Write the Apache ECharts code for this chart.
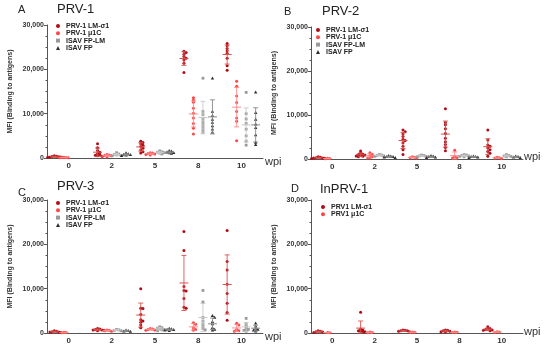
<!DOCTYPE html>
<html>
<head>
<meta charset="utf-8">
<script src="https://cdn.jsdelivr.net/npm/echarts@6/dist/echarts.min.js"></script>
<style>
html,body{margin:0;padding:0;background:#fff;}
#chart{width:550px;height:349px;}
</style>
</head>
<body>
<div id="chart"></div>
<script>
// ---------- data ----------
const catLabels = ['0', '2', '5', '8', '10'];
const namesABC = ['PRV-1 LM-σ1', 'PRV-1 μ1C', 'ISAV FP-LM', 'ISAV FP'];
const namesD = ['PRV1 LM-σ1', 'PRV1 μ1C'];
const yTicks = [0, 10000, 20000, 30000];

// Panel A: PRV-1 (values per wpi group)
const prv1_LM = [[100,200,300,400,250,150,350,500],[3200,2300,1700,1300,1000,800,600,500,400],[3800,3500,3200,2900,2600,2200,1800,1400,1100],[24100,23800,23400,22900,22500,22100,21400,19300],[25800,25300,24700,24200,23600,22500,20800,19800]];
const prv1_mu = [[50,100,150,80,120],[800,600,400,300,500,700],[1200,1000,900,700,800,1100],[13600,13100,12600,11200,10100,9000,7800,6700,5400],[17300,16200,14000,12500,10500,9000,8300,3900]];
const prv1_fplm = [[],[900,1200,700,500,600,800],[1300,1100,1600,900,1200,1400],[18000,10500,9800,8900,8200,7600,7000,6400,5800],[14800,10000,8800,7800,6500,5000,3800,2900]];
const prv1_fp = [[],[900,1100,600,700,500,800],[1300,1500,1100,1200,1600,1000],[18000,10500,9500,8700,8000,7200,6500,5800],[14800,10200,8700,7600,6800,5200,3500,3000]];

// Panel B: PRV-2
const prv2_LM = [[300,200,400,100,250,500,150],[1800,1300,1100,1000,900,800,700,600,500],[6600,6200,5700,5100,4500,4200,3700,2900,2100,1000],[11400,8300,7800,6900,5800,4700,3900,3300,2600,1900],[6600,4300,3200,2900,2500,2100,1700,1300,600]];
const prv2_mu = [[100,50,150],[1400,1100,800,500,300,200],[400,300,200,500],[2000,500,300,200],[400,300,200,100]];
const prv2_fplm = [[],[1000,900,800,700,600],[900,700,600,800,500],[900,700,600,800,500,1000],[1000,800,600,500,700]];
const prv2_fp = [[],[700,600,500,400,300,500],[600,400,500,300,700],[500,400,600,300,500],[500,400,300,600]];

// Panel C: PRV-3
const prv3_LM = [[200,400,300,100,500,250],[900,800,700,600,1000,700,500],[10000,5600,5500,4200,3000,2700,2400,1800,1200],[22900,18600,10500,9600,9500,7800,5800,5600],[23100,16100,14200,11000,8900,6700,4600,2900]];
const prv3_mu = [[100,50,150],[600,500,400,700],[1000,800,700,900,600],[2300,2000,1200,800,600],[2200,1800,800,500,400]];
const prv3_fplm = [[],[700,600,500,800],[1400,1100,900,700,1200,800,500],[9600,7000,3500,2700,2000,1500,1000,700],[3300,2000,1500,1000,800,600,400]];
const prv3_fp = [[],[500,400,300,600],[900,1000,700,600,800,500],[3900,3500,2500,2000,1200,800,600],[2200,1500,1000,800,600,400]];

// Panel D: InPRV-1
const inprv_LM = [[300,200,400,100,500],[4700,900,700,500,400,300,200],[600,500,400,700,300,500],[600,500,400,300,700,200],[1400,1000,900,800,700,600,500]];
const inprv_mu = [[100,50],[200,100,50],[200,100,150],[200,100,150],[300,200,100]];

// ---------- styling ----------
const styles = [
  {color:'#b00c16', bar:'#d9534f', shape:'circle'},
  {color:'#ff4545', bar:'#ff8a8a', shape:'circle'},
  {color:'#9a9a9a', bar:'#c8c8c8', shape:'rect'},
  {color:'#2e2e2e', bar:'#8a8a8a', shape:'triangle'}
];
const offsets = [-0.33, -0.11, 0.11, 0.33];

const panels = [
  {letter:'A', title:'PRV-1', grid:{left:47, top:25, width:216, height:133}, sets:[prv1_LM, prv1_mu, prv1_fplm, prv1_fp], names:namesABC,
   letterPos:[18,4], titlePos:[57,3], legendPos:[56,22.5], wpiPos:[265,156]},
  {letter:'B', title:'PRV-2', grid:{left:311, top:27, width:212, height:132}, sets:[prv2_LM, prv2_mu, prv2_fplm, prv2_fp], names:namesABC,
   letterPos:[284,6], titlePos:[322,5], legendPos:[316,26.5], wpiPos:[524,151]},
  {letter:'C', title:'PRV-3', grid:{left:47, top:200, width:216, height:133}, sets:[prv3_LM, prv3_mu, prv3_fplm, prv3_fp], names:namesABC,
   letterPos:[18,187], titlePos:[57,180], legendPos:[56,199.5], wpiPos:[265,331]},
  {letter:'D', title:'InPRV-1', grid:{left:311, top:200, width:212, height:133}, sets:[inprv_LM, inprv_mu], names:namesD,
   letterPos:[291,183], titlePos:[320,183], legendPos:[321,203.5], wpiPos:[524,326]}
];

function mean(a){ return a.reduce((s,v)=>s+v,0)/a.length; }
function sd(a){ if(a.length<2) return 0; const m=mean(a); return Math.sqrt(a.reduce((s,v)=>s+(v-m)*(v-m),0)/(a.length-1)); }

function makeRender(vals, off, st){
  return function(params, api){
    const g = api.value(0);
    const arr = vals[g];
    if(!arr || !arr.length) return;
    const band = api.size([1,0])[0];
    const cx = api.coord([g, 0])[0] + off*band;
    const children = [];
    // beeswarm placement of points
    const r = 1.5, d = 2.2;
    const ys = arr.map(v => api.coord([g, v])[1]).sort((a,b)=>a-b);
    const placed = [];
    ys.forEach(y => {
      for(let k=0;k<20;k++){
        const step = (k===0)?0:(k%2===1?Math.ceil(k/2):-Math.ceil(k/2));
        const x = cx + step*d;
        let ok = true;
        for(const p of placed){ if(Math.hypot(p[0]-x, p[1]-y) < 2.0){ ok=false; break; } }
        if(ok){ placed.push([x,y]); break; }
      }
    });
    placed.forEach(p => {
      if(st.shape==='circle'){
        children.push({type:'circle', shape:{cx:p[0], cy:p[1], r:r}, style:{fill:st.color}});
      } else if(st.shape==='rect'){
        children.push({type:'rect', shape:{x:p[0]-1.4, y:p[1]-1.4, width:2.8, height:2.8}, style:{fill:st.color}});
      } else {
        children.push({type:'polygon', shape:{points:[[p[0],p[1]-1.8],[p[0]+1.7,p[1]+1.2],[p[0]-1.7,p[1]+1.2]]}, style:{fill:st.color}});
      }
    });
    // mean and SD bars
    const m = mean(arr), s = sd(arr);
    const ym = api.coord([g, m])[1];
    const yt = api.coord([g, m+s])[1];
    const yb = api.coord([g, Math.max(0, m-s)])[1];
    const ls = {stroke:st.bar, lineWidth:0.9};
    children.push({type:'line', shape:{x1:cx, y1:yt, x2:cx, y2:yb}, style:ls});
    children.push({type:'line', shape:{x1:cx-2.5, y1:yt, x2:cx+2.5, y2:yt}, style:ls});
    children.push({type:'line', shape:{x1:cx-2.5, y1:yb, x2:cx+2.5, y2:yb}, style:ls});
    children.push({type:'line', shape:{x1:cx-4.5, y1:ym, x2:cx+4.5, y2:ym}, style:{stroke:st.bar, lineWidth:1}});
    return {type:'group', children};
  };
}

const grids=[], xAxes=[], yAxes=[], series=[], legends=[], graphics=[];
const axisColor = '#555';
panels.forEach((p, pi) => {
  grids.push(Object.assign({containLabel:false}, p.grid));
  xAxes.push({
    type:'category', gridIndex:pi, data:catLabels, boundaryGap:true,
    axisLine:{lineStyle:{color:axisColor, width:1}},
    axisTick:{alignWithLabel:true, length:3, lineStyle:{color:axisColor}},
    axisLabel:{fontSize:8, fontWeight:'bold', color:'#333', margin:4, fontFamily:'Liberation Sans, Arial, sans-serif'},
    splitLine:{show:false}
  });
  yAxes.push({
    type:'value', gridIndex:pi, min:yTicks[0], max:yTicks[yTicks.length-1], interval:yTicks[1]-yTicks[0],
    name:'MFI (Binding to antigens)', nameLocation:'middle', nameGap:33, nameRotate:90,
    nameTextStyle:{fontSize:7, fontWeight:'bold', color:'#333', fontFamily:'Liberation Sans, Arial, sans-serif'},
    axisLine:{show:true, lineStyle:{color:axisColor, width:1}},
    axisTick:{show:true, length:3, lineStyle:{color:axisColor}},
    minorTick:{show:true, splitNumber:4, length:1.5, lineStyle:{color:axisColor}},
    axisLabel:{fontSize:7, fontWeight:'bold', color:'#333', margin:3, fontFamily:'Liberation Sans, Arial, sans-serif',
      formatter: v => v.toLocaleString('en-US')},
    splitLine:{show:false}
  });
  p.sets.forEach((vals, si) => {
    series.push({
      type:'custom', name:p.names[si], xAxisIndex:pi, yAxisIndex:pi,
      itemStyle:{color:styles[si].color},
      data: catLabels.map((c, i) => [i, 0]),
      encode:{x:0, y:1},
      renderItem: makeRender(vals, offsets[si], styles[si]),
      clip:false, silent:true
    });
  });
  legends.push({
    orient:'vertical', left:p.legendPos[0], top:p.legendPos[1],
    itemWidth:4, itemHeight:4, itemGap:0.3, padding:0,
    textStyle:{fontSize:7, fontWeight:'bold', color:'#222', lineHeight:7, padding:[0,0,0,1], fontFamily:'Liberation Sans, Arial, sans-serif'},
    data: p.names.map((n, si) => ({name:n, icon: styles[si].shape==='triangle' ? 'triangle' : (styles[si].shape==='rect' ? 'rect' : 'circle'),
      itemStyle:{color:styles[si].color}})),
    selectedMode:false
  });
  graphics.push({type:'text', left:p.letterPos[0], top:p.letterPos[1], style:{text:p.letter, fill:'#222', font:'11px "Liberation Sans", Arial, sans-serif'}});
  graphics.push({type:'text', left:p.titlePos[0], top:p.titlePos[1], style:{text:p.title, fill:'#222', font:'13px "Liberation Sans", Arial, sans-serif'}});
  graphics.push({type:'text', left:p.wpiPos[0], top:p.wpiPos[1], style:{text:'wpi', fill:'#333', font:'11px "Liberation Sans", Arial, sans-serif'}});
});

const chart = echarts.init(document.getElementById('chart'), null, {renderer:'canvas'});
chart.setOption({
  animation:false,
  backgroundColor:'#ffffff',
  grid:grids, xAxis:xAxes, yAxis:yAxes, series:series, legend:legends, graphic:graphics
});
</script>
</body>
</html>
